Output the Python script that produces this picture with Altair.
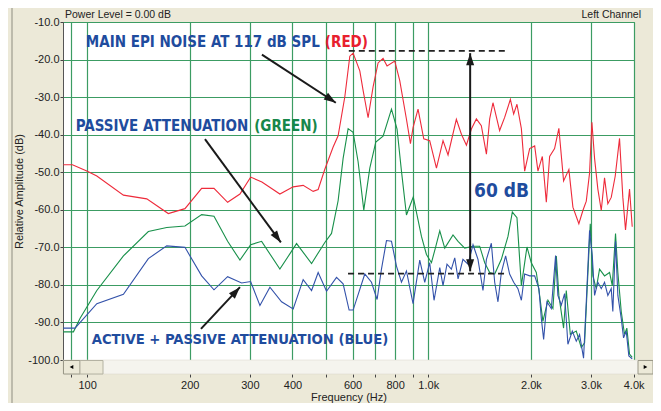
import altair as alt
import pandas as pd

# ---------------- data (frequency in Hz, level in dB) ----------------
red_freq = [85.2, 90.6, 99.8, 106.8, 127.8, 149.6, 173.0, 193.6, 216.7, 235.5, 258.2, 280.6,
            301.6, 325.4, 367.4, 401.9, 429.9, 459.9, 475.7, 497.6, 526.3, 544.3, 569.5, 589.0,
            602.3, 630.1, 644.3, 666.4, 689.2, 712.8, 737.3, 757.4, 797.8, 825.1, 863.3, 886.9,
            902.6, 933.5, 970.2, 1010, 1057, 1105, 1143, 1209, 1251, 1294, 1338, 1384, 1431,
            1481, 1514, 1548, 1619, 1675, 1741, 1780, 1820, 1875, 1917, 1983, 2051, 2097, 2160,
            2219, 2269, 2346, 2415, 2493, 2584, 2655, 2764, 2840, 2906, 2971, 3018, 3073, 3142,
            3215, 3287, 3361, 3439, 3533, 3637, 3719, 3787, 3891, 3962]
red_db = [-48.0, -48.0, -49.7, -51.0, -56.1, -57.1, -61.0, -59.7, -54.3, -54.3, -58.0, -55.8,
          -51.3, -52.6, -55.8, -53.9, -53.5, -55.1, -54.6, -49.2, -43.3, -40.3, -29.9, -19.1,
          -18.3, -23.0, -28.2, -35.5, -27.3, -20.9, -19.7, -21.7, -20.4, -25.6, -35.9, -42.4,
          -38.1, -33.2, -41.1, -41.6, -48.9, -41.6, -45.4, -35.9, -39.9, -42.8, -38.5, -35.8, -37.6,
          -45.2, -35.8, -31.5, -38.9, -35.4, -30.6, -34.5, -31.9, -38.4, -49.7, -43.7, -43.0, -49.7, -45.8,
          -58.0, -45.8, -43.7, -38.3, -52.3, -49.3, -59.3, -63.7, -60.2, -57.7, -50.2, -36.7, -46.3, -54.5,
          -60.2, -51.5, -58.4, -56.7, -51.0, -41.0, -56.7, -65.4, -54.5, -64.5]

green_freq = [85.1, 91.2, 95.4, 106.8, 127.8, 151.2, 171.2, 193.6, 216.7, 235.5, 258.2, 280.6,
              301.6, 324.8, 367.4, 411.2, 455.0, 497.6, 520.6, 544.3, 563.0, 582.3, 602.3, 622.9,
              647.3, 674.1, 701.9, 737.3, 780.3, 810.2, 834.7, 863.3, 903.8, 933.5, 955.2, 988.0,
              1022, 1052, 1081, 1118, 1182, 1223, 1279, 1353, 1415, 1464, 1514, 1566, 1638, 1713,
              1764, 1820, 1875, 1947, 2005, 2074, 2121, 2168, 2243, 2320, 2374, 2415, 2493, 2539,
              2609, 2716, 2809, 2873, 2917, 2985, 3038, 3108, 3178, 3287, 3400, 3463, 3540, 3596,
              3679, 3762, 3821, 3891, 3962]
green_db = [-92.5, -92.5, -88.9, -81.5, -72.3, -65.8, -64.7, -64.3, -61.3, -61.7, -68.4, -73.4,
            -69.3, -68.4, -75.8, -69.0, -74.3, -68.7, -66.3, -57.6, -46.3, -38.4, -39.4, -47.2,
            -60.1, -48.9, -42.0, -40.4, -33.2, -38.5, -49.7, -61.4, -56.6, -62.7, -67.1, -71.9,
            -74.1, -69.8, -65.6, -70.2, -66.7, -68.4, -70.2, -69.7, -69.7, -74.1, -76.7, -77.1, -73.2, -67.1,
            -60.6, -62.1, -80.2, -69.9, -74.1, -76.7, -82.8, -89.7, -84.1, -86.3, -72.3, -82.8, -91.5, -81.5,
            -93.2, -92.3, -96.7, -95.4, -82.8, -63.7, -77.6, -81.0, -75.8, -77.6, -76.7, -80.2, -66.3, -76.7,
            -87.1, -93.2, -91.5, -98.4, -99.3]

blue_freq = [85.1, 92.2, 106.8, 127.8, 151.2, 171.2, 193.6, 216.7, 235.5, 258.2, 283.8, 301.6,
             321.1, 343.5, 371.6, 401.9, 429.9, 455.0, 475.7, 503.4, 538.5, 563.0, 586.2, 602.3,
             651.7, 681.8, 708.1, 729.3, 754.4, 780.3, 807.0, 834.7, 863.3, 902.6, 944.3, 976.7,
             1010, 1040, 1081, 1105, 1135, 1169, 1196, 1223, 1264, 1308, 1353, 1399, 1447, 1481,
             1531, 1566, 1601, 1638, 1686, 1732, 1780, 1832, 1875, 1917, 1983, 2051, 2111, 2145,
             2179, 2228, 2295, 2362, 2399, 2455, 2510, 2567, 2644, 2716, 2777, 2853, 2906, 2971,
             3026, 3073, 3142, 3215, 3287, 3361, 3439, 3476, 3540, 3596, 3679, 3737, 3805, 3873, 3962]
blue_db = [-91.5, -91.5, -85.0, -82.5, -73.0, -69.6, -70.0, -77.6, -81.3, -77.8, -79.5, -79.1,
           -85.5, -80.6, -84.5, -86.4, -78.6, -81.5, -76.7, -81.7, -78.0, -79.7, -86.7, -86.7,
           -77.1, -79.3, -83.9, -75.8, -68.2, -68.4, -75.0, -79.3, -76.3, -85.0, -73.4, -79.3,
           -74.1, -84.1, -75.4, -80.2, -74.5, -75.8, -72.8, -78.4, -73.2, -74.5, -69.3, -73.2, -81.5, -73.2,
           -68.9, -79.3, -84.5, -76.7, -72.3, -77.1, -79.3, -81.0, -84.1, -77.1, -77.6, -77.6, -81.0, -88.9,
           -94.5, -84.5, -86.3, -72.2, -82.8, -85.4, -82.3, -95.8, -92.3, -95.0, -93.2, -99.5, -84.5, -65.5,
           -72.3, -82.8, -79.3, -81.0, -79.3, -82.8, -81.0, -87.1, -68.4, -82.8, -88.9, -94.1, -92.3, -98.9, -99.7]

x_ticks = [90, 100, 200, 300, 400, 500, 600, 700, 800, 900, 1000, 2000, 3000, 4000]
x_labels = ["", "100", "200", "300", "400", "", "600", "", "800", "", "1.0k", "2.0k", "3.0k", "4.0k"]
y_ticks = [-100, -90, -80, -70, -60, -50, -40, -30, -20, -10]

# annotations (data coordinates)
arrow_f1 = [325.4, 221.6, 215.7]
arrow_db1 = [-18.7, -41.2, -91.7]
arrow_f2 = [536.0, 369.9, 280.6]
arrow_db2 = [-31.5, -68.7, -80.6]
arrow_angle = [123.5, 144.1, 42.2]

span_f = 1327
span_top = -18.3
span_bottom = -76.4

dash_f1 = [585, 582]
dash_f2 = [1701, 1694]
dash_db = [-17.7, -77.0]

# ---------------- layout ----------------
W, H = 571, 338
SB = 14  # scrollbar strip height
GRID = "#3c9c63"
FONT = "Liberation Sans"
ANN_FONT = "DejaVu Sans Condensed, Liberation Sans, sans-serif"
BLUE_TXT = "#1f4c9e"

xs = alt.Scale(type="log", domain=[85, 4010], nice=False)
ys = alt.Scale(domain=[-100, -10], nice=False)

label_expr = " : ".join(f"datum.value == {v} ? '{l}'" for v, l in zip(x_ticks, x_labels)) + " : ''"

x_axis = alt.Axis(values=x_ticks, labelExpr=label_expr, title="Frequency (Hz)",
                  grid=True, gridColor=GRID, gridWidth=1.2, gridOpacity=1,
                  domain=False, offset=SB, tickSize=3, tickColor="#444",
                  labelFont=FONT, labelFontSize=11, labelColor="#222", labelPadding=2,
                  labelFlush=False, labelOverlap=False,
                  titleFont=FONT, titleFontSize=11, titleFontWeight="normal",
                  titleColor="#222", titleY=26, titleBaseline="alphabetic")
y_axis = alt.Axis(values=y_ticks, labelExpr="'-' + format(abs(datum.value), '.1f')",
                  title="Relative Amplitude (dB)",
                  grid=True, gridColor=GRID, gridWidth=1.2, gridOpacity=1,
                  domain=True, domainColor="#555", tickSize=3, tickColor="#444",
                  labelFont=FONT, labelFontSize=11, labelColor="#222", labelPadding=1,
                  titleFont=FONT, titleFontSize=11, titleFontWeight="normal",
                  titleColor="#222", titlePadding=3)


def X(field="f"):
    return alt.X(f"{field}:Q", scale=xs, axis=x_axis)


def Y(field="db"):
    return alt.Y(f"{field}:Q", scale=ys, axis=y_axis)


red_df = pd.DataFrame({"f": red_freq, "db": red_db})
green_df = pd.DataFrame({"f": green_freq, "db": green_db})
blue_df = pd.DataFrame({"f": blue_freq, "db": blue_db})

red = alt.Chart(red_df).mark_line(color="#ee2b3b", strokeWidth=1.1).encode(x=X(), y=Y())
green = alt.Chart(green_df).mark_line(color="#18904a", strokeWidth=1.1).encode(x=X(), y=Y())
blue = alt.Chart(blue_df).mark_line(color="#3352aa", strokeWidth=1.1).encode(x=X(), y=Y())

# dashed reference lines
dash_df = pd.DataFrame({"f": dash_f1, "f2": dash_f2, "db": dash_db})
dashes = alt.Chart(dash_df).mark_rule(color="#222", strokeWidth=1.8, strokeDash=[6, 4]).encode(
    x=X(), x2="f2:Q", y=Y())

# diagonal arrows
arr_df = pd.DataFrame({"f": arrow_f1, "db": arrow_db1, "f2": arrow_f2, "db2": arrow_db2})
arr_lines = alt.Chart(arr_df).mark_rule(color="#1a1a1a", strokeWidth=2).encode(
    x=X(), y=Y(), x2="f2:Q", y2="db2:Q")
HEAD = "M0,0L1,3L-1,3Z"
head_df = pd.DataFrame({"f": arrow_f2 + [span_f, span_f],
                        "db": arrow_db2 + [span_top, span_bottom],
                        "ang": arrow_angle + [0, 180]})
heads = alt.Chart(head_df).mark_point(shape=HEAD, filled=True, size=64, color="#1a1a1a",
                                      opacity=1, strokeWidth=0).encode(
    x=X(), y=Y(), angle=alt.Angle("ang:Q", scale=None))

# vertical 60 dB span arrow
span_df = pd.DataFrame({"f": [span_f], "db": [span_top], "db2": [span_bottom]})
span_line = alt.Chart(span_df).mark_rule(color="#1a1a1a", strokeWidth=2).encode(
    x=X(), y=Y(), y2="db2:Q")


# annotation texts
def ann(text, f, db, color, align, size=15):
    d = pd.DataFrame({"t": [text], "f": [f], "db": [db]})
    return alt.Chart(d).mark_text(font=ANN_FONT, fontWeight="bold", fontSize=size, color=color,
                                  align=align, baseline="middle").encode(x=X(), y=Y(), text="t:N")


t1a = ann("MAIN EPI NOISE AT 117 dB SPL", 481, -15.3, BLUE_TXT, "right")
t1b = ann("(RED)", 497.6, -15.3, "#e8202e", "left")
t2a = ann("PASSIVE ATTENUATION", 296.7, -37.6, BLUE_TXT, "right")
t2b = ann("(GREEN)", 308.9, -37.6, "#17874a", "left")
t3 = ann("ACTIVE + PASSIVE ATTENUATION (BLUE)", 280.6, -94.6, BLUE_TXT, "center", size=14.7)
t4 = ann("60 dB", 1641, -55.1, BLUE_TXT, "center", size=19)

# window chrome: header texts, scrollbar, panel border
one = pd.DataFrame({"k": [0]})
hdr_l = alt.Chart(pd.DataFrame({"t": ["Power Level = 0.00 dB"]})).mark_text(
    font=FONT, fontSize=10.5, color="#222", align="left", baseline="alphabetic").encode(
    x=alt.value(2), y=alt.value(-4), text="t:N")
hdr_r = alt.Chart(pd.DataFrame({"t": ["Left Channel"]})).mark_text(
    font=FONT, fontSize=10.5, color="#222", align="right", baseline="alphabetic").encode(
    x=alt.value(578), y=alt.value(-4), text="t:N")

track = alt.Chart(one).mark_rect(fill="#f5f4ee", stroke="#d8d6c8", strokeWidth=0.5).encode(
    x=alt.value(0), x2=alt.value(590), y=alt.value(H), y2=alt.value(H + SB))
btn_l = alt.Chart(one).mark_rect(fill="#ece9d8", stroke="#9a9888", strokeWidth=1).encode(
    x=alt.value(0.5), x2=alt.value(17), y=alt.value(H + 0.5), y2=alt.value(H + SB))
thumb = alt.Chart(one).mark_rect(fill="#ece9d8", stroke="#b4b2a2", strokeWidth=1).encode(
    x=alt.value(17), x2=alt.value(40), y=alt.value(H + 0.5), y2=alt.value(H + SB))
btn_r = alt.Chart(one).mark_rect(fill="#ece9d8", stroke="#9a9888", strokeWidth=1).encode(
    x=alt.value(575), x2=alt.value(590), y=alt.value(H + 0.5), y2=alt.value(H + SB))
tri_l = alt.Chart(one).mark_point(shape="triangle-left", filled=True, size=18, color="#000",
                                  opacity=1).encode(x=alt.value(8.5), y=alt.value(H + SB / 2))
tri_r = alt.Chart(one).mark_point(shape="triangle-right", filled=True, size=18, color="#000",
                                  opacity=1).encode(x=alt.value(582.5), y=alt.value(H + SB / 2))
border = alt.Chart(one).mark_rule(color="#8e8d80", strokeWidth=1).encode(
    x=alt.value(-51), y=alt.value(-14), y2=alt.value(H + 43))

chart = alt.layer(
    red, green, blue, dashes, arr_lines, span_line, heads,
    t1a, t1b, t2a, t2b, t3, t4,
    hdr_l, hdr_r, track, btn_l, thumb, btn_r, tri_l, tri_r, border,
).properties(
    width=W, height=H,
    padding={"left": 55, "top": 14, "right": 19, "bottom": 43},
    autosize=alt.AutoSizeParams(type="none"),
    background="#ece9d8",
).configure_view(fill="white", stroke=GRID, strokeWidth=1)

chart.save("out.html", embed_options={"renderer": "svg", "actions": False})
